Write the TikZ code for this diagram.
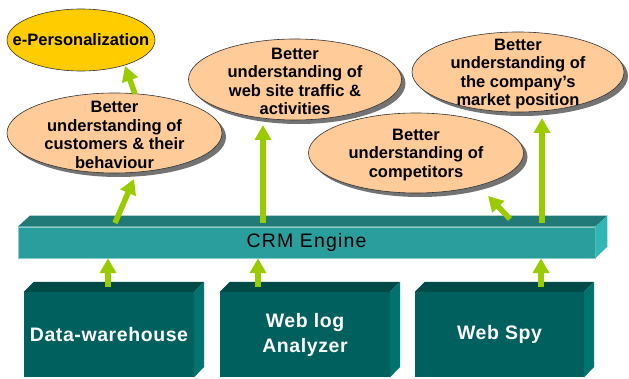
\documentclass[tikz,border=0pt]{standalone}
\usepackage{fontspec}
\setmainfont{Liberation Sans}
\newfontfamily\boxfont[LetterSpace=3]{Liberation Sans}
\newfontfamily\crmfont[LetterSpace=6]{Liberation Sans}
\usetikzlibrary{shapes.geometric,arrows.meta,shadows,calc}
\definecolor{peach}{HTML}{FFCC99}
\definecolor{gold}{HTML}{FFCC00}
\definecolor{arrowgreen}{HTML}{99CC00}
\definecolor{barfront}{HTML}{2A9E9C}
\definecolor{bartop}{HTML}{217A78}
\definecolor{barside}{HTML}{30B6B4}
\definecolor{boxfront}{HTML}{00605E}
\definecolor{boxtop}{HTML}{004A48}
\definecolor{boxside}{HTML}{00736F}
\begin{document}
\begin{tikzpicture}[x=1pt,y=-1pt,
  ideatext/.style={align=center, inner sep=0pt, text=black,
    font=\fontsize{16.5}{18.6}\selectfont\bfseries},
  idea/.style={ellipse, draw=black!80, line width=0.6pt, fill=peach, inner sep=0pt,
    drop shadow={shadow xshift=4pt, shadow yshift=-4pt, fill=black!55, opacity=1},
    label={[ideatext, yshift=-2pt]center:#1}},
  goal/.style={ellipse, draw=black!80, line width=0.6pt, fill=gold, inner sep=0pt,
    label={[ideatext]center:#1}},
  srcbox/.style={rectangle, fill=boxfront, inner sep=0pt, minimum width=170pt,
    minimum height=85pt, text=white, align=center,
    font=\boxfont\fontsize{19.5}{25}\selectfont\bfseries},
  boxtopface/.style={fill=boxtop},
  boxsideface/.style={fill=boxside},
  arr/.style={draw=arrowgreen, line width=5.5pt,
    -{Triangle[width=16pt,length=15pt]}}]
\useasboundingbox (0,0) rectangle (629,379);

% CRM bar
\node[rectangle, fill=barfront, draw=barfront!55!white, line width=0.5pt,
  minimum width=577pt, minimum height=31pt, inner sep=0pt,
  font=\crmfont\fontsize{19.5}{20}\selectfont] (crm) at (306.5,242.5) {CRM Engine};
\fill[bartop] (crm.north west) -- ++(12,-11) -- ($(crm.north east)+(12,-11)$) -- (crm.north east) -- cycle;
\fill[barside] (crm.north east) -- ++(12,-11) -- ++(0,31) -- (crm.south east) -- cycle;

% source boxes
\node[srcbox] (b1) at (109,334.5) {Data-warehouse};
\node[srcbox] (b2) at (305,334.5) {Web log\\Analyzer};
\node[srcbox, minimum width=169pt] (b3) at (499.5,334.5) {Web Spy};
\foreach \b in {b1,b2,b3}{
  \fill[boxtopface] (\b.north west) -- ++(10,-10) -- ($(\b.north east)+(10,-10)$) -- (\b.north east) -- cycle;
  \fill[boxsideface] (\b.north east) -- ++(10,-10) -- ++(0,85) -- (\b.south east) -- cycle;
}

% ellipses
\node[goal={e-Personalization}, minimum width=148pt, minimum height=62pt] (epers) at (81,40) {};
\node[idea={Better\\understanding of\\customers \& their\\behaviour},
  minimum width=215pt, minimum height=80pt] (cust) at (114.5,133) {};
\node[idea={Better\\understanding of\\web site traffic \&\\activities},
  minimum width=213pt, minimum height=81pt] (web) at (295,79.5) {};
\node[idea={Better\\understanding of\\the company’s\\market position},
  minimum width=212pt, minimum height=80pt] (market) at (518,72) {};
\node[idea={Better\\understanding of\\competitors},
  minimum width=215pt, minimum height=80pt] (comp) at (416,153) {};

% arrow coordinates
\coordinate (t1) at (108,287);
\coordinate (t2) at (258,287);
\coordinate (t3) at (541,287);
\coordinate (u1) at (115,223);
\coordinate (c1) at (134,179);
\coordinate (u2) at (263,223);
\coordinate (c2) at (263,125);
\coordinate (u3) at (510,219);
\coordinate (c3) at (488,196);
\coordinate (u4) at (542,223);
\coordinate (c4) at (542,118);
\coordinate (u5) at (135,94);
\coordinate (c5) at (125,66);

\draw[arr] (t1) -- (t1 |- crm.south);
\draw[arr] (t2) -- (t2 |- crm.south);
\draw[arr] (t3) -- (t3 |- crm.south);
\draw[arr] (u1) -- (c1);
\draw[arr] (u2) -- (c2);
\draw[arr] (u3) -- (c3);
\draw[arr] (u4) -- (c4);
\draw[arr] (u5) -- (c5);
\end{tikzpicture}
\end{document}
